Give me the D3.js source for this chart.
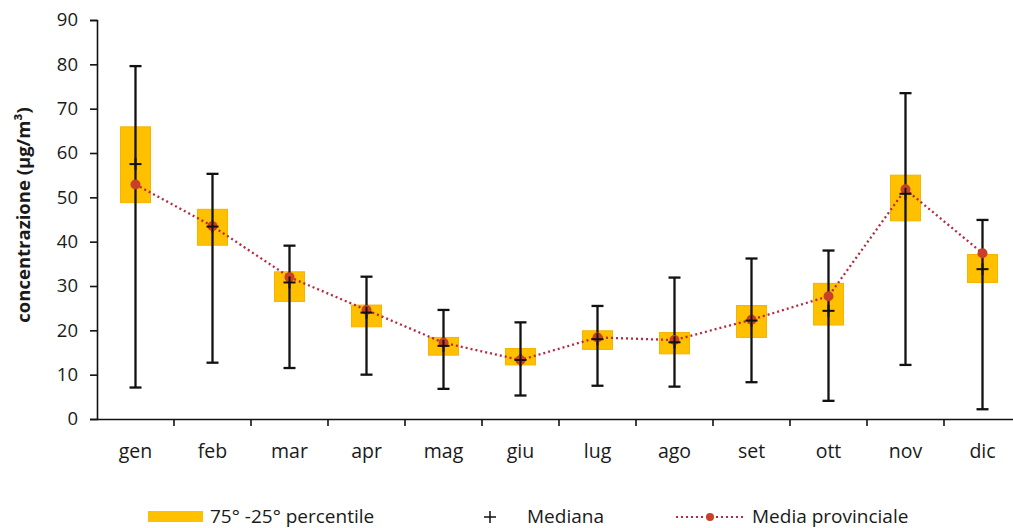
<!DOCTYPE html>
<html>
<head>
<meta charset="utf-8">
<script src="https://cdn.jsdelivr.net/npm/d3@7"></script>
<style>
  html, body { margin: 0; padding: 0; background: #fff; }
  svg { display: block; }
  text { font-family: "Open Sans", "Liberation Sans", sans-serif; fill: #1a1a1a; }
</style>
</head>
<body>
<svg id="chart" width="1013" height="528"></svg>
<script>
const months = ["gen","feb","mar","apr","mag","giu","lug","ago","set","ott","nov","dic"];
const maxVal = [79.6, 55.3, 39.1, 32.1, 24.6, 21.8, 25.5, 31.9, 36.2, 38.0, 73.5, 44.9];
const minVal = [7.1, 12.7, 11.5, 10.0, 6.8, 5.3, 7.5, 7.3, 8.3, 4.1, 12.2, 2.2];
const p75 = [65.9, 47.3, 33.2, 25.7, 18.4, 15.9, 19.9, 19.5, 25.6, 30.6, 55.0, 37.1];
const p25 = [48.8, 39.2, 26.5, 20.8, 14.4, 12.2, 15.7, 14.7, 18.4, 21.2, 44.7, 30.8];
const median = [57.5, 43.4, 30.8, 24.0, 16.5, 13.3, 18.0, 17.3, 22.2, 24.4, 50.8, 33.8];
const mean = [52.9, 43.5, 32.0, 24.6, 17.2, 13.3, 18.4, 17.8, 22.4, 27.7, 51.8, 37.4];
const yTicks = [0, 10, 20, 30, 40, 50, 60, 70, 80, 90];
const yLabel = "concentrazione (µg/m³)";
const legendLabels = ["75° -25° percentile", "Mediana", "Media provinciale"];

const svg = d3.select("#chart");
const x = d3.scaleBand().domain(months).range([97, 1021]).padding(0);
const y = d3.scaleLinear().domain([0, 90]).range([419, 20]);
const cx = m => x(m) + x.bandwidth() / 2;

const boxW = 30, capW = 12;
const orange = "#FFC000";
const lineCol = "#B8283F";
const dotCol = "#C8402A";

// Y axis
const yAxis = svg.append("g").attr("transform", "translate(97,0)")
  .call(d3.axisLeft(y).tickValues(yTicks).tickSize(7).tickPadding(12));
yAxis.select(".domain").attr("stroke", "#111").attr("stroke-width", 1.6);
yAxis.selectAll(".tick line").attr("stroke", "#111").attr("stroke-width", 1.6);
yAxis.selectAll(".tick text").attr("font-size", 18.5).attr("fill", "#1a1a1a")
  .style("font-family", "'Open Sans', sans-serif");

// X axis line and ticks at band boundaries
svg.append("line").attr("x1", 97).attr("x2", 1013).attr("y1", 419.5).attr("y2", 419.5)
  .attr("stroke", "#111").attr("stroke-width", 1.6);
svg.append("g").selectAll("line").data(months.slice(1)).join("line")
  .attr("x1", d => x(d)).attr("x2", d => x(d))
  .attr("y1", 419).attr("y2", 426).attr("stroke", "#111").attr("stroke-width", 1.6);
svg.append("g").selectAll("text").data(months).join("text")
  .attr("x", d => cx(d)).attr("y", 458).attr("text-anchor", "middle")
  .attr("font-size", 19.5).text(d => d);

// Y label
svg.append("text").attr("transform", "translate(30,215) rotate(-90)")
  .attr("text-anchor", "middle").attr("font-size", 18.5).attr("font-weight", "bold")
  .text(yLabel);

const data = months.map((m, i) => ({m, max: maxVal[i], min: minVal[i], p75: p75[i], p25: p25[i], med: median[i], mean: mean[i]}));

// boxes
svg.append("g").selectAll("rect").data(data).join("rect")
  .attr("x", d => cx(d.m) - boxW / 2).attr("width", boxW)
  .attr("y", d => y(d.p75)).attr("height", d => y(d.p25) - y(d.p75))
  .attr("fill", orange).attr("stroke", "#F4B400").attr("stroke-width", 1);

// whiskers
const wg = svg.append("g").attr("stroke", "#111").attr("stroke-width", 2.3);
wg.selectAll(".v").data(data).join("line").attr("class", "v")
  .attr("x1", d => cx(d.m)).attr("x2", d => cx(d.m))
  .attr("y1", d => y(d.max)).attr("y2", d => y(d.min));
wg.selectAll(".t").data(data).join("line").attr("class", "t")
  .attr("x1", d => cx(d.m) - capW / 2).attr("x2", d => cx(d.m) + capW / 2)
  .attr("y1", d => y(d.max)).attr("y2", d => y(d.max));
wg.selectAll(".b").data(data).join("line").attr("class", "b")
  .attr("x1", d => cx(d.m) - capW / 2).attr("x2", d => cx(d.m) + capW / 2)
  .attr("y1", d => y(d.min)).attr("y2", d => y(d.min));

// mean line
const line = d3.line().x(d => cx(d.m)).y(d => y(d.mean));
svg.append("path").datum(data).attr("d", line).attr("fill", "none")
  .attr("stroke", lineCol).attr("stroke-width", 2.3).attr("stroke-dasharray", "2,3");
svg.append("g").selectAll("circle").data(data).join("circle")
  .attr("cx", d => cx(d.m)).attr("cy", d => y(d.mean)).attr("r", 5)
  .attr("fill", dotCol);

// median plus
const pg = svg.append("g").attr("stroke", "#111").attr("stroke-width", 2);
pg.selectAll(".h").data(data).join("line").attr("class", "h")
  .attr("x1", d => cx(d.m) - 6).attr("x2", d => cx(d.m) + 6)
  .attr("y1", d => y(d.med)).attr("y2", d => y(d.med));
pg.selectAll(".vv").data(data).join("line").attr("class", "vv")
  .attr("x1", d => cx(d.m)).attr("x2", d => cx(d.m))
  .attr("y1", d => y(d.med) - 6).attr("y2", d => y(d.med) + 6);

// legend
const lg = svg.append("g");
lg.append("rect").attr("x", 148).attr("y", 511).attr("width", 55).attr("height", 11).attr("fill", orange);
lg.append("text").attr("x", 210).attr("y", 523).attr("font-size", 19).text(legendLabels[0]);
lg.append("line").attr("x1", 484).attr("x2", 496).attr("y1", 517).attr("y2", 517).attr("stroke", "#111").attr("stroke-width", 1.5);
lg.append("line").attr("x1", 490).attr("x2", 490).attr("y1", 511).attr("y2", 523).attr("stroke", "#111").attr("stroke-width", 1.5);
lg.append("text").attr("x", 527).attr("y", 523).attr("font-size", 19).text(legendLabels[1]);
lg.append("line").attr("x1", 676).attr("x2", 745).attr("y1", 517).attr("y2", 517)
  .attr("stroke", lineCol).attr("stroke-width", 2).attr("stroke-dasharray", "2,3");
lg.append("circle").attr("cx", 710).attr("cy", 517).attr("r", 4).attr("fill", dotCol);
lg.append("text").attr("x", 752).attr("y", 523).attr("font-size", 19).text(legendLabels[2]);
</script>
</body>
</html>
